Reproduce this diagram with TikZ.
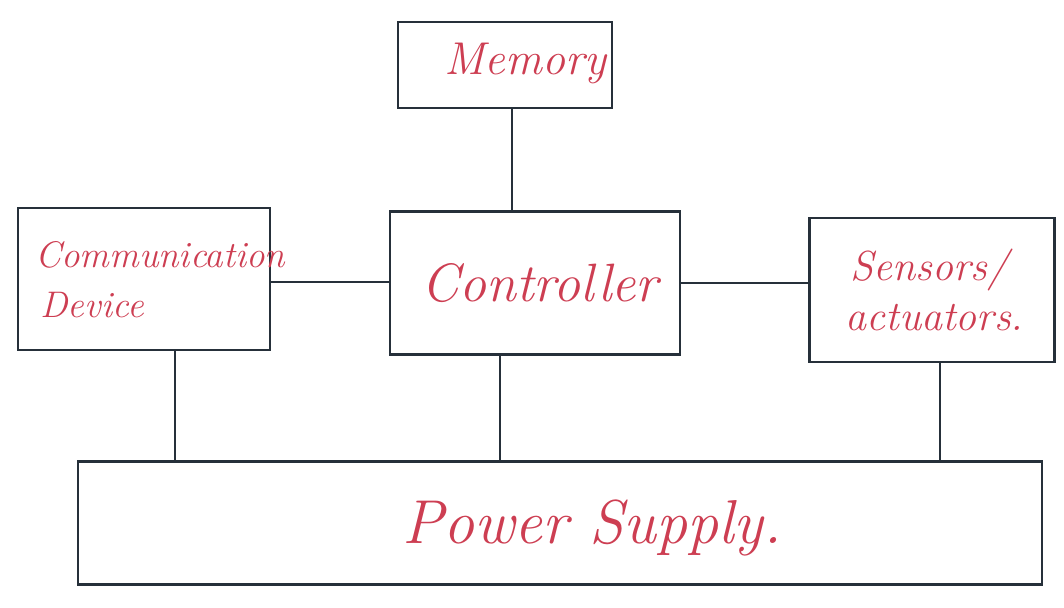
\documentclass[tikz,border=0pt]{standalone}
\usetikzlibrary{calc}
\definecolor{ink}{RGB}{38,48,58}
\definecolor{pen}{RGB}{205,62,82}
\begin{document}
\begin{tikzpicture}[x=1pt,y=-1pt,
  blk/.style={draw=ink,line width=2.5pt,rectangle,inner sep=0pt,text=pen,align=center,font=\itshape\fontsize{30}{38}\selectfont},
  wire/.style={draw=ink,line width=2.2pt}]
\useasboundingbox (0,0) rectangle (1064,607);
\node[blk,minimum width=214pt,minimum height=86pt] (mem) at (505,65) {};
\node[text=pen,font=\itshape\fontsize{46}{50}\selectfont] (memt) at (525,63) {Memory};
\node[blk,minimum width=290pt,minimum height=143pt] (ctrl) at (535,283) {};
\node[text=pen,font=\itshape\fontsize{54}{60}\selectfont] (ctrlt) at (540,283) {Controller};
\node[blk,minimum width=252pt,minimum height=142pt] (comm) at (144,279) {};
\node[text=pen,font=\itshape\fontsize{37}{54}\selectfont,align=left,anchor=west] (commt) at (32,280) {Communication\\[-4pt]\hspace*{5pt}Device};
\node[blk,minimum width=245pt,minimum height=144pt] (sens) at (932,290) {};
\node[text=pen,font=\itshape\fontsize{42}{50}\selectfont,align=left,anchor=west] (senst) at (842,290) {\hspace*{5pt}Sensors/\\actuators.};
\node[blk,minimum width=964pt,minimum height=123pt] (pow) at (560,523) {};
\node[text=pen,font=\itshape\fontsize{62}{70}\selectfont] (powt) at (592,528) {Power Supply.};
\draw[wire] ([xshift=7pt]mem.south) -- ([xshift=7pt]mem.south |- ctrl.north);
\draw[wire] ([yshift=-3pt]comm.east) -- ([yshift=-3pt]comm.east -| ctrl.west);
\draw[wire] (ctrl.east) -- (ctrl.east -| sens.west);
\draw[wire] ([xshift=31pt]comm.south) -- ([xshift=31pt]comm.south |- pow.north);
\draw[wire] ([xshift=-35pt]ctrl.south) -- ([xshift=-35pt]ctrl.south |- pow.north);
\draw[wire] ([xshift=8pt]sens.south) -- ([xshift=8pt]sens.south |- pow.north);
\end{tikzpicture}
\end{document}
